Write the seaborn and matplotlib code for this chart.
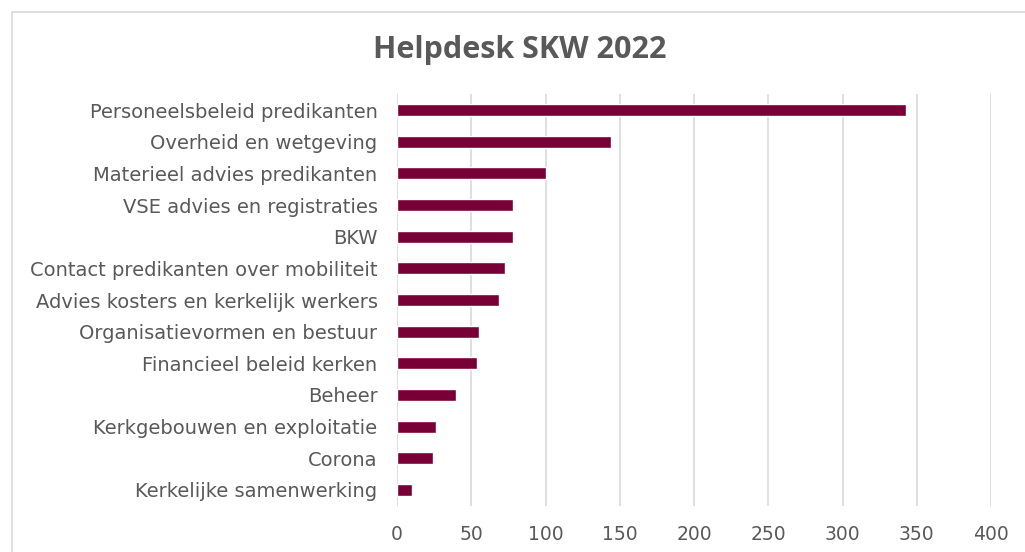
import matplotlib
matplotlib.use("Agg")
import matplotlib.pyplot as plt
import seaborn as sns
import pandas as pd
from matplotlib.patches import Rectangle

categories = [
    "Personeelsbeleid predikanten",
    "Overheid en wetgeving",
    "Materieel advies predikanten",
    "VSE advies en registraties",
    "BKW",
    "Contact predikanten over mobiliteit",
    "Advies kosters en kerkelijk werkers",
    "Organisatievormen en bestuur",
    "Financieel beleid kerken",
    "Beheer",
    "Kerkgebouwen en exploitatie",
    "Corona",
    "Kerkelijke samenwerking",
]
counts = [343, 144, 100, 78, 78, 73, 69, 55, 54, 40, 26, 24, 10]
x_ticks = [0, 50, 100, 150, 200, 250, 300, 350, 400]

bar_color = "#780037"
text_color = "#595959"
grid_color = "#D9D9D9"

df = pd.DataFrame({"onderwerp": categories, "aantal": counts})

sns.set_theme(style="white")
plt.rcParams["font.family"] = ["DejaVu Sans"]

fig = plt.figure(figsize=(10.25, 5.52), dpi=100)
ax = fig.add_axes([397 / 1025, 1 - 505.8 / 552, 594 / 1025, (505.8 - 94.2) / 552])

sns.barplot(data=df, x="aantal", y="onderwerp", color=bar_color,
            width=0.37, saturation=1, ax=ax, zorder=3)

ax.set_xlim(0, 400)
ax.set_ylim(12.5, -0.5)
ax.set_xticks(x_ticks)
ax.set_xticklabels([str(t) for t in x_ticks])
ax.xaxis.grid(True, color=grid_color, linewidth=1.2, zorder=0)
ax.yaxis.grid(False)
for s in ax.spines.values():
    s.set_visible(False)
ax.set_xlabel("")
ax.set_ylabel("")
ax.tick_params(axis="y", length=0, pad=14, labelsize=14, labelcolor=text_color)
ax.tick_params(axis="x", length=0, pad=14, labelsize=13.5, labelcolor=text_color)

fig.text(0.507, 1 - 50 / 552, "Helpdesk SKW 2022", ha="center", va="center",
         fontsize=22, fontweight="bold", color=text_color, family="Open Sans")

# chart border
fig.patches.append(Rectangle((12 / 1025, -0.1), 1.2, 1 - 12 / 552 + 0.1,
                             transform=fig.transFigure, fill=False,
                             edgecolor="#D9D9D9", linewidth=1.2))

fig.savefig("out.png", dpi=100, facecolor="white")
